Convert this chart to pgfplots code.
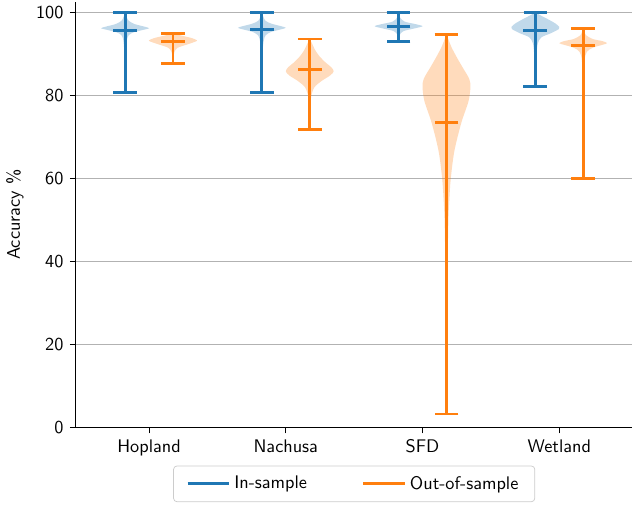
\documentclass[border=0pt]{standalone}
\usepackage{pgfplots}
\usepackage{pgfplotstable}
\pgfplotsset{compat=1.18}
\renewcommand{\familydefault}{\sfdefault}
\definecolor{cblue}{HTML}{1F77B4}
\definecolor{corange}{HTML}{FF7F0E}

% summary statistics: position, mean, max, min
\pgfplotstableread{
pos mean max min
-0.175 95.7 100 80.6
0.825 95.9 100 80.8
1.825 96.7 100 93.1
2.825 95.7 100 82.1
}\insample
\pgfplotstableread{
pos mean max min
0.175 92.9 94.9 87.6
1.175 86.3 93.6 71.8
2.175 73.4 94.7 3.2
3.175 92.1 96.1 60.0
}\outsample

% violin half-width profiles (w = fraction of max half width)
\pgfplotstableread{
y w
80.6 0
85 0.01
90 0.03
92 0.05
93.5 0.08
94.5 0.15
95.2 0.35
95.8 0.75
96.2 1.0
96.6 0.8
97.2 0.4
98 0.15
99 0.06
100 0
}\hopIn
\pgfplotstableread{
y w
87.6 0
89 0.02
90.5 0.06
91.5 0.2
92.3 0.6
93.0 0.95
93.3 1.0
93.8 0.8
94.3 0.45
94.7 0.15
94.9 0
}\hopOut
\pgfplotstableread{
y w
80.8 0
85 0.01
90 0.03
92 0.05
93.5 0.09
94.5 0.16
95.3 0.38
95.9 0.78
96.3 1.0
96.7 0.8
97.3 0.4
98 0.15
99 0.06
100 0
}\nacIn
\pgfplotstableread{
y w
71.8 0
75 0.01
78 0.03
80 0.07
82 0.2
83.5 0.5
84.8 0.85
85.8 1.0
86.8 0.9
88 0.65
89.5 0.4
91 0.22
92.5 0.1
93.6 0
}\nacOut
\pgfplotstableread{
y w
93.1 0
94.5 0.04
95.5 0.2
96.2 0.7
96.7 1.0
97.2 0.7
97.8 0.25
98.8 0.06
100 0
}\sfdIn
\pgfplotstableread{
y w
3.2 0
20 0.02
40 0.05
50 0.08
55 0.12
60 0.18
66.6 0.33
73.4 0.62
78.6 0.92
82 1.0
84 0.95
86.8 0.67
89 0.45
91.5 0.22
93.5 0.08
94.7 0
}\sfdOut
\pgfplotstableread{
y w
82.1 0
87 0.02
90 0.05
92.5 0.1
94 0.25
95 0.65
96 0.98
96.5 1.0
97.3 0.85
98.3 0.55
99.2 0.25
100 0
}\wetIn
\pgfplotstableread{
y w
60 0
70 0.01
80 0.02
88 0.05
90.5 0.15
91.5 0.4
92.2 0.8
92.6 1.0
93.1 0.8
93.6 0.4
94.5 0.12
95.5 0.04
96.1 0
}\wetOut

\newcommand{\violin}[3]{%
  \addplot[smooth, draw=none, fill=#1, fill opacity=0.28, forget plot]
    table[x expr={#2+0.175*\thisrow{w}}, y=y] {#3};
  \addplot[smooth, draw=none, fill=#1, fill opacity=0.28, forget plot]
    table[x expr={#2-0.175*\thisrow{w}}, y=y] {#3};
}

\begin{document}
\begin{tikzpicture}
\begin{axis}[
  width=305pt, height=233pt, scale only axis,
  xmin=-0.535, xmax=3.535, ymin=0, ymax=102.5,
  axis x line*=bottom, axis y line*=left,
  xtick={0,1,2,3}, xticklabels={Hopland,Nachusa,SFD,Wetland},
  ytick={0,20,40,60,80,100},
  ymajorgrids, grid style={color=black!30, line width=0.6pt},
  tick align=outside, major tick length=3.3pt,
  tick style={black, line width=0.5pt},
  axis line style={line width=0.6pt},
  ylabel={Accuracy \%},
  /pgf/number format/assume math mode=true,
  legend style={at={(0.5,-0.09)}, anchor=north, legend columns=2,
    draw=black!20, rounded corners=2pt, inner xsep=7pt, inner ysep=3.5pt,
    /tikz/every even column/.append style={column sep=28pt}},
  legend cell align=left,
  legend image code/.code={\draw[#1] (0cm,0cm) -- (0.8cm,0cm);},
]
\addlegendimage{cblue, line width=1.6pt}
\addlegendentry{In-sample}
\addlegendimage{corange, line width=1.6pt}
\addlegendentry{Out-of-sample}

\violin{cblue}{-0.175}{\hopIn}
\violin{cblue}{0.825}{\nacIn}
\violin{cblue}{1.825}{\sfdIn}
\violin{cblue}{2.825}{\wetIn}
\violin{corange}{0.175}{\hopOut}
\violin{corange}{1.175}{\nacOut}
\violin{corange}{2.175}{\sfdOut}
\violin{corange}{3.175}{\wetOut}

\addplot[cblue, only marks, mark=-, mark size=6.5pt, mark options={line width=1.6pt}, forget plot,
  error bars/.cd, y dir=both, y explicit, error mark=|,
  error mark options={line width=1.6pt, mark size=6.5pt, cblue},
  error bar style={line width=1.6pt, cblue}]
  table[x=pos, y=mean, y error plus expr=\thisrow{max}-\thisrow{mean},
        y error minus expr=\thisrow{mean}-\thisrow{min}] {\insample};
\addplot[corange, only marks, mark=-, mark size=6.5pt, mark options={line width=1.6pt}, forget plot,
  error bars/.cd, y dir=both, y explicit, error mark=|,
  error mark options={line width=1.6pt, mark size=6.5pt, corange},
  error bar style={line width=1.6pt, corange}]
  table[x=pos, y=mean, y error plus expr=\thisrow{max}-\thisrow{mean},
        y error minus expr=\thisrow{mean}-\thisrow{min}] {\outsample};
\end{axis}
\draw[draw=none] (current bounding box.south) -- ++(0,-4pt);
\end{tikzpicture}
\end{document}
